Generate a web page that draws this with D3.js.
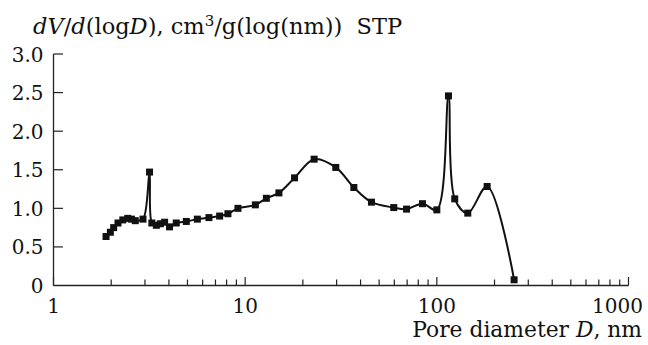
<!DOCTYPE html>
<html>
<head>
<meta charset="utf-8">
<script src="https://cdn.jsdelivr.net/npm/d3@7"></script>
<style>
  body { margin: 0; background: #fff; }
</style>
</head>
<body>
<svg id="chart" width="648" height="345"></svg>
<script>
// pore diameter, nm
const diameters = [1.88, 1.98, 2.06, 2.17, 2.30, 2.44, 2.55, 2.67, 2.93, 3.17, 3.26, 3.44, 3.61, 3.80,
  4.03, 4.37, 4.93, 5.63, 6.47, 7.36, 8.13, 9.17, 11.3, 12.9, 15.0, 18.1, 22.9, 29.7, 36.9, 45.6,
  59.6, 69.5, 84.2, 100, 115, 124, 145, 183, 253];
// dV/d(logD), cm3/g
const volumes = [0.635, 0.69, 0.75, 0.81, 0.85, 0.87, 0.86, 0.84, 0.86, 1.47, 0.81, 0.78, 0.80, 0.82,
  0.76, 0.81, 0.83, 0.86, 0.88, 0.90, 0.93, 1.00, 1.045, 1.13, 1.20, 1.395, 1.637, 1.53, 1.27, 1.08,
  1.01, 0.99, 1.06, 0.98, 2.457, 1.123, 0.938, 1.283, 0.074];
const xTicks = [1, 10, 100, 1000];
const yTicks = [0, 0.5, 1.0, 1.5, 2.0, 2.5, 3.0];

const FONT = '"DejaVu Serif", serif';
const data = diameters.map((d, i) => ({ d: d, v: volumes[i] }));

const svg = d3.select('#chart');
const x = d3.scaleLog().domain([1, 1000]).range([53.5, 628.5]);
const y = d3.scaleLinear().domain([0, 3]).range([285.5, 54]);

// minor ticks 2..9 of each decade
const minor = [];
[1, 10, 100].forEach(function (p) {
  for (let k = 2; k <= 9; k++) minor.push(p * k);
});

const xAxis = svg.append('g')
  .attr('transform', 'translate(0,' + y(0) + ')');
xAxis.append('line')
  .attr('x1', x(1)).attr('x2', x(1000))
  .attr('stroke', '#222').attr('stroke-width', 1.3);
xAxis.selectAll('.minor').data(minor).enter().append('line')
  .attr('x1', d => x(d)).attr('x2', d => x(d))
  .attr('y1', 0).attr('y2', -6)
  .attr('stroke', '#222').attr('stroke-width', 1.2);
xAxis.selectAll('.major').data(xTicks).enter().append('line')
  .attr('x1', d => x(d)).attr('x2', d => x(d))
  .attr('y1', 0).attr('y2', -8.5)
  .attr('stroke', '#222').attr('stroke-width', 1.2);
xAxis.selectAll('.lbl').data(xTicks).enter().append('text')
  .attr('x', d => d === 1000 ? 643 : x(d)).attr('y', 27.5)
  .attr('text-anchor', d => d === 1000 ? 'end' : 'middle')
  .attr('font-family', FONT)
  .attr('fill', '#111')
  .style('font-size', '20px')
  .text(d => d);

const yAxis = svg.append('g')
  .attr('transform', 'translate(' + x(1) + ',0)');
yAxis.append('line')
  .attr('y1', y(0)).attr('y2', y(3))
  .attr('stroke', '#222').attr('stroke-width', 1.3);
yAxis.selectAll('.tick').data(yTicks.slice(1)).enter().append('line')
  .attr('x1', 0).attr('x2', 9.5)
  .attr('y1', d => y(d)).attr('y2', d => y(d))
  .attr('stroke', '#222').attr('stroke-width', 1.2);
yAxis.selectAll('.lbl').data(yTicks).enter().append('text')
  .attr('x', -10).attr('y', d => y(d) + 7.5)
  .attr('text-anchor', 'end')
  .attr('font-family', FONT)
  .attr('fill', '#111')
  .style('font-size', '20px')
  .text(d => d === 0 ? '0' : d.toFixed(1));

// curve
const line = d3.line()
  .x(d => x(d.d))
  .y(d => y(d.v))
  .curve(d3.curveCatmullRom.alpha(0.5));

svg.append('path')
  .datum(data)
  .attr('d', line)
  .attr('fill', 'none')
  .attr('stroke', '#111')
  .attr('stroke-width', 2);

svg.selectAll('.pt').data(data).enter().append('rect')
  .attr('x', d => x(d.d) - 3.5)
  .attr('y', d => y(d.v) - 3.5)
  .attr('width', 7).attr('height', 7)
  .attr('fill', '#111');

// axis titles
const title = svg.append('text')
  .attr('x', 33).attr('y', 34)
  .attr('font-family', FONT)
  .attr('fill', '#111')
  .style('font-size', '22.5px');
title.append('tspan').style('font-style', 'italic').text('dV');
title.append('tspan').text('/');
title.append('tspan').style('font-style', 'italic').text('d');
title.append('tspan').text('(log');
title.append('tspan').style('font-style', 'italic').text('D');
title.append('tspan').text('), cm');
title.append('tspan').attr('dy', -8).style('font-size', '15px').text('3');
title.append('tspan').attr('dy', 8).text('/g(log(nm))\u00a0\u00a0STP');

const xl = svg.append('text')
  .attr('x', 642).attr('y', 337)
  .attr('text-anchor', 'end')
  .attr('font-family', FONT)
  .attr('fill', '#111')
  .style('font-size', '21.8px');
xl.append('tspan').text('Pore diameter ');
xl.append('tspan').style('font-style', 'italic').text('D');
xl.append('tspan').text(', nm');
</script>
</body>
</html>
